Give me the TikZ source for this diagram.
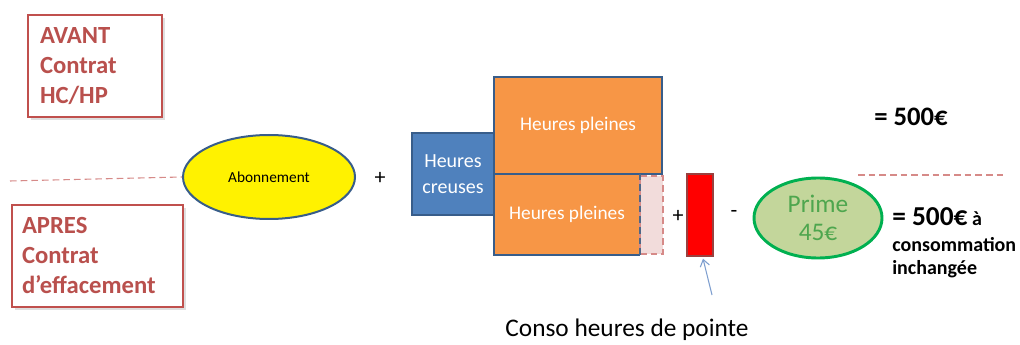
\documentclass[tikz,border=0pt]{standalone}
\usepackage{fontspec}
\setmainfont{Carlito}
\usetikzlibrary{shapes.geometric,arrows.meta,shadows}
\definecolor{redtxt}{HTML}{B9504D}
\definecolor{redbrd}{HTML}{C0504D}
\definecolor{dashred}{HTML}{D68A88}
\definecolor{bluebrd}{HTML}{385D8A}
\definecolor{bluefill}{HTML}{4F81BD}
\definecolor{orangefill}{HTML}{F79646}
\definecolor{pinkfill}{HTML}{F2DCDB}
\definecolor{greenbrd}{HTML}{00B050}
\definecolor{greenfill}{HTML}{C3D69B}
\definecolor{greentxt}{HTML}{4EA64E}
\definecolor{arrowblue}{HTML}{7F9FCF}
\tikzset{
  labelbox/.style={draw=redbrd, line width=1.8pt, fill=white, inner sep=0pt, align=left,
    text=redtxt, font=\fontsize{18.5}{22.5}\selectfont\bfseries,
    drop shadow={shadow xshift=2pt, shadow yshift=-2pt, opacity=0.25}},
  bluebox/.style={draw=bluebrd, line width=1.5pt, fill=bluefill, inner sep=0pt, align=center,
    text=white, font=\fontsize{15}{19.5}\selectfont},
  orangebox/.style={fill=orangefill, inner sep=0pt, align=center,
    text=white, font=\fontsize{14.5}{18}\selectfont},
  bluerule/.style={draw=bluebrd, line width=1.5pt},
  sep/.style={draw=dashred, line width=0.8pt, dash pattern=on 5pt off 3pt},
  optext/.style={font=\fontsize{16.5}{18}\selectfont},
}
\begin{document}
\begin{tikzpicture}[x=0.75pt,y=-0.75pt]
\path[use as bounding box] (0,0) rectangle (1020,345);

% label boxes
\node[labelbox, minimum width=100.5pt, minimum height=76.5pt, text width=82.5pt] (avant) at (95,66)
  {AVANT\\Contrat\\HC/HP};
\node[labelbox, minimum width=128.25pt, minimum height=76.5pt, text width=113.25pt] (apres) at (97.5,256)
  {APRES\\Contrat\\d’effacement};

% ellipse
\node[ellipse, draw=bluebrd, line width=1.5pt, fill=yellow, minimum width=129pt, minimum height=63pt,
  inner sep=0pt, font=\fontsize{11.5}{13}\selectfont] (abo) at (269,177) {Abonnement};

% dashed separators
\coordinate (sl) at (10,181);
\draw[sep] (sl) -- (abo.west);
\coordinate (sr1) at (858,175);
\coordinate (sr2) at (1007,175);
\draw[sep] (sr1) -- (sr2);

\node[optext] (plus1) at (380,178) {+};

% heures creuses
\node[bluebox, minimum width=61.5pt, minimum height=61.5pt] (hc) at (453,174) {Heures\\creuses};

% heures pleines top
\node[orangebox, bluerule, minimum width=126pt, minimum height=72.75pt] (hp1) at (578,125.5) {Heures pleines};

% heures pleines bottom
\node[orangebox, minimum width=109.5pt, minimum height=60.75pt] (hp2) at (567,214.5) {Heures pleines};
\draw[bluerule] (hp2.north east) -- (hp2.north west) -- (hp2.south west) -- (hp2.south east);
\node[fill=pinkfill, draw=dashred, line width=1.2pt, dash pattern=on 5pt off 3pt,
  minimum width=17.25pt, minimum height=58.5pt, inner sep=0pt] (pink) at (651.5,215) {};
\draw[draw=bluebrd!70!gray, line width=1.2pt, dash pattern=on 5pt off 3pt] (hp2.north east) -- (hp2.south east);

\node[optext] (plus2) at (678,216) {+};

% red bar
\node[fill=red, draw=redbrd!80!black, line width=1pt, minimum width=19.5pt, minimum height=61.5pt,
  inner sep=0pt] (rbar) at (700,215) {};

\node[optext] (minus) at (734,214) {-};

% prime
\node[ellipse, draw=greenbrd, line width=2.2pt, fill=greenfill, minimum width=96pt, minimum height=60pt,
  inner sep=0pt, align=center, text=greentxt, font=\fontsize{19}{21}\selectfont] (prime) at (818,218) {Prime\\45€};

% results
\node[font=\fontsize{20}{22}\selectfont\bfseries] (r1) at (911,117) {= 500€};
\node[anchor=north west, align=left, inner sep=0pt, font=\fontsize{15}{17.5}\selectfont\bfseries] (r2) at (892,207)
  {{\fontsize{20.5}{22}\selectfont = 500€} à\\[2pt]consommation\\inchangée};

% arrow and caption
\coordinate (arrtail) at (712,295);
\draw[arrowblue, line width=0.8pt, -{Straight Barb[length=5pt,width=7pt]}] (arrtail) -- ([xshift=2.25pt,yshift=-1.5pt]rbar.south);
\node[font=\fontsize{19}{22}\selectfont] (conso) at (627,330) {Conso heures de pointe};
\end{tikzpicture}
\end{document}
